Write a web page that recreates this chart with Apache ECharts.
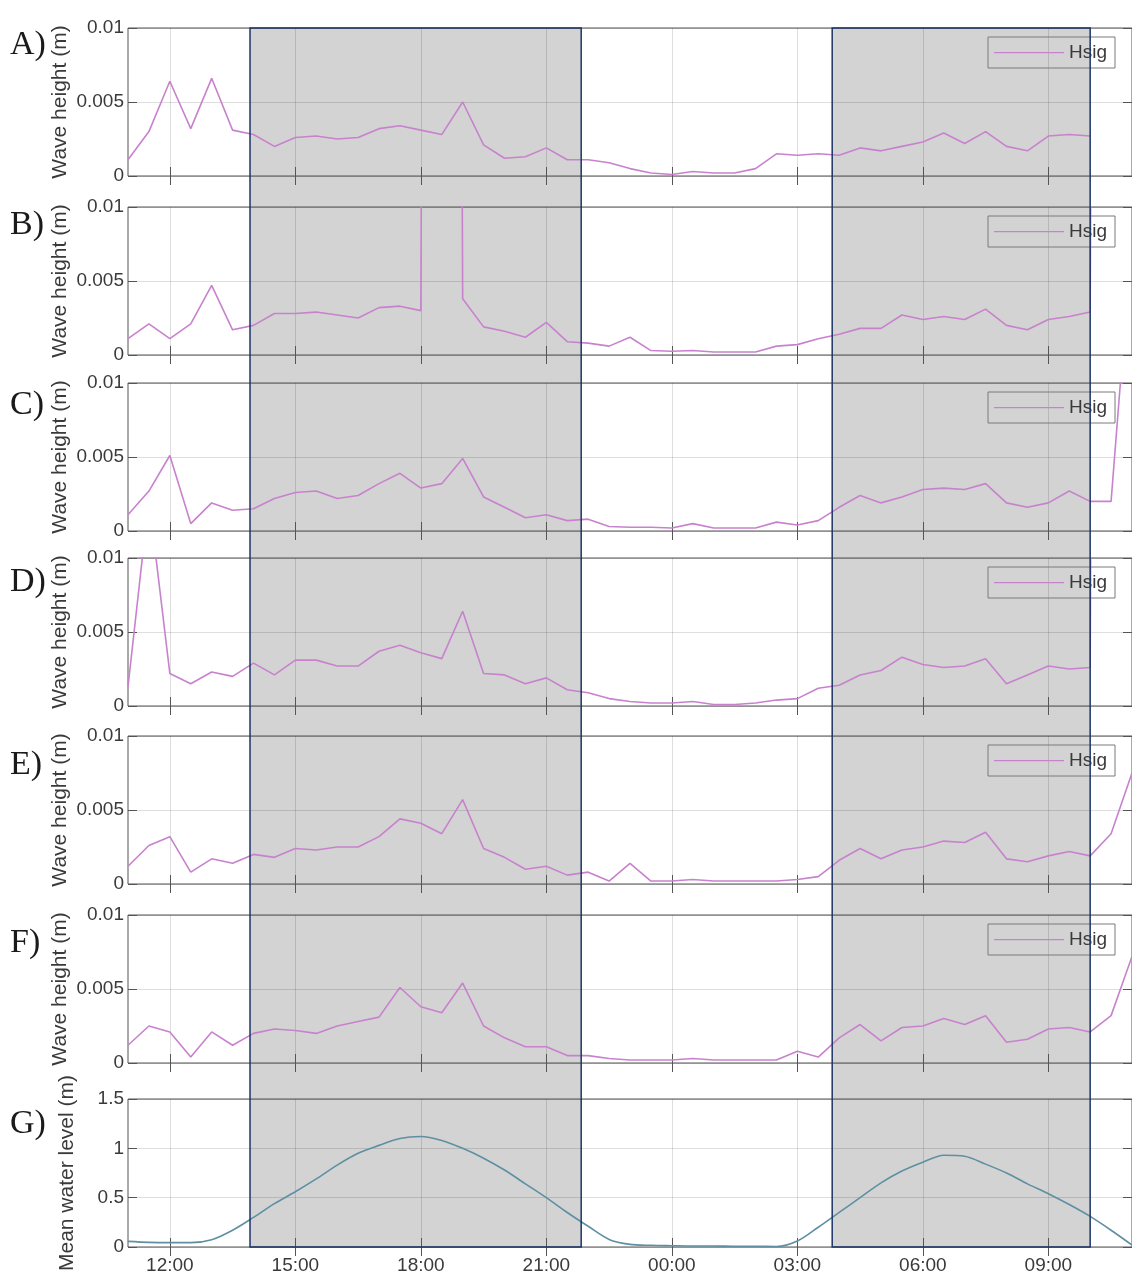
<!DOCTYPE html>
<html><head><meta charset="utf-8">
<script src="https://cdn.jsdelivr.net/npm/echarts@6/dist/echarts.min.js"></script>
<style>html,body{margin:0;padding:0;overflow:hidden;background:#fff}#c{width:1132px;height:1275px}</style>
</head><body><div id="c"></div><script>
// ---------------- DATA ----------------
const times = ['11:00','11:30','12:00','12:30','13:00','13:30','14:00','14:30','15:00','15:30',
  '16:00','16:30','17:00','17:30','18:00','18:30','19:00','19:30','20:00','20:30',
  '21:00','21:30','22:00','22:30','23:00','23:30','00:00','00:30','01:00','01:30',
  '02:00','02:30','03:00','03:30','04:00','04:30','05:00','05:30','06:00','06:30',
  '07:00','07:30','08:00','08:30','09:00','09:30','10:00','10:30','11:00'];
const panelLetters = ['A)','B)','C)','D)','E)','F)','G)'];
const hsigA = [0.0011,0.0030,0.0064,0.0032,0.0066,0.0031,0.0028,0.0020,0.0026,0.0027,
  0.0025,0.0026,0.0032,0.0034,0.0031,0.0028,0.0050,0.0021,0.0012,0.0013,
  0.0019,0.0011,0.0011,0.0009,0.0005,0.0002,0.0001,0.0003,0.0002,0.0002,
  0.0005,0.0015,0.0014,0.0015,0.0014,0.0019,0.0017,0.0020,0.0023,0.0029,
  0.0022,0.0030,0.0020,0.0017,0.0027,0.0028,0.0027,null,null];
const hsigB = [0.0011,0.0021,0.0011,0.0021,0.0047,0.0017,0.0020,0.0028,0.0028,0.0029,
  0.0027,0.0025,0.0032,0.0033,0.0030,0.35,0.0038,0.0019,0.0016,0.0012,
  0.0022,0.0009,0.0008,0.0006,0.0012,0.0003,0.00025,0.0003,0.0002,0.0002,
  0.0002,0.0006,0.0007,0.0011,0.0014,0.0018,0.0018,0.0027,0.0024,0.0026,
  0.0024,0.0031,0.0020,0.0017,0.0024,0.0026,0.0029,0.35,null];
const hsigC = [0.0011,0.0027,0.0051,0.0005,0.0019,0.0014,0.0015,0.0022,0.0026,0.0027,
  0.0022,0.0024,0.0032,0.0039,0.0029,0.0032,0.0049,0.0023,0.0016,0.0009,
  0.0011,0.0007,0.0008,0.0003,0.00025,0.00025,0.0002,0.0005,0.0002,0.0002,
  0.0002,0.0006,0.0004,0.0007,0.0016,0.0024,0.0019,0.0023,0.0028,0.0029,
  0.0028,0.0032,0.0019,0.0016,0.0019,0.0027,0.0020,0.0020,0.020];
const hsigD = [0.0013,0.014,0.0022,0.0015,0.0023,0.0020,0.0029,0.0021,0.0031,0.0031,
  0.0027,0.0027,0.0037,0.0041,0.0036,0.0032,0.0064,0.0022,0.0021,0.0015,
  0.0019,0.0011,0.0009,0.0005,0.0003,0.0002,0.0002,0.0003,0.0001,0.0001,
  0.0002,0.0004,0.0005,0.0012,0.0014,0.0021,0.0024,0.0033,0.0028,0.0026,
  0.0027,0.0032,0.0015,0.0021,0.0027,0.0025,0.0026,0.35,null];
const hsigE = [0.0012,0.0026,0.0032,0.0008,0.0017,0.0014,0.0020,0.0018,0.0024,0.0023,
  0.0025,0.0025,0.0032,0.0044,0.0041,0.0034,0.0057,0.0024,0.0018,0.0010,
  0.0012,0.0006,0.0008,0.0002,0.0014,0.0002,0.0002,0.0003,0.0002,0.0002,
  0.0002,0.0002,0.0003,0.0005,0.0016,0.0024,0.0017,0.0023,0.0025,0.0029,
  0.0028,0.0035,0.0017,0.0015,0.0019,0.0022,0.0019,0.0034,0.0075];
const hsigF = [0.0012,0.0025,0.0021,0.0004,0.0021,0.0012,0.0020,0.0023,0.0022,0.0020,
  0.0025,0.0028,0.0031,0.0051,0.0038,0.0034,0.0054,0.0025,0.0017,0.0011,
  0.0011,0.0005,0.0005,0.0003,0.0002,0.0002,0.0002,0.0003,0.0002,0.0002,
  0.0002,0.0002,0.0008,0.0004,0.0017,0.0026,0.0015,0.0024,0.0025,0.0030,
  0.0026,0.0032,0.0014,0.0016,0.0023,0.0024,0.0021,0.0032,0.0072];
const waterLevel = [0.057,0.047,0.044,0.044,0.074,0.17,0.30,0.44,0.56,0.69,
  0.83,0.95,1.03,1.10,1.12,1.08,1.00,0.90,0.78,0.64,
  0.50,0.35,0.21,0.077,0.027,0.017,0.013,0.010,0.010,0.007,
  0.007,0.005,0.06,0.20,0.35,0.50,0.65,0.77,0.86,0.93,
  0.92,0.84,0.75,0.64,0.54,0.43,0.31,0.17,0.02];
const tickLabels = ['12:00','15:00','18:00','21:00','00:00','03:00','06:00','09:00'];
const shadedPeriods = [['13:55','21:50'],['03:50','10:00']];
const waveTicks = [0, 0.005, 0.01];
const levelTicks = [0, 0.5, 1, 1.5];
const waveName = 'Wave height (m)';
const levelName = 'Mean water level (m)';
const legendName = 'Hsig';

// ---------------- HELPERS ----------------
const START = 11; // axis starts 11:00
function clockToHour(t){ const [h,m]=t.split(':').map(Number); let v=h+m/60; if(v<START) v+=24; return v; }
function seriesHours(list){ let prev=-Infinity; return list.map(t=>{ const [h,m]=t.split(':').map(Number); let v=h+m/60; while(v<prev) v+=24; prev=v; return v; }); }
const xHours = seriesHours(times);
const tickVals = tickLabels.map(clockToHour);
const hourToLabel = v => { const h = ((Math.round(v)%24)+24)%24; return (h<10?'0':'')+h+':00'; };

// ---------------- LAYOUT ----------------
const GRID_TOPS = [28, 207, 383, 558, 736, 915, 1099];
const GRID_H = 148;
const GRID_LEFT = 128, GRID_W = 1008;
const LETTER_Y = [45, 225, 405, 582, 765, 943, 1124];
const FONT = '"Liberation Sans", Arial, Helvetica, sans-serif';
const HSIG_COLOR = '#c882cd';
const LEVEL_COLOR = '#5e8fa3';
const AX = '#555';
const TXT = '#3a3a3a';
const LEGEND_ICON = 'path://M0,0h0.05v0.05h-0.05z M0,6.4h70v1.3h-70z M0,13.95h0.05v0.05h-0.05z';

const waveSeries = [hsigA, hsigB, hsigC, hsigD, hsigE, hsigF];

const grids = [], xAxes = [], yAxes = [], yAxesR = [], series = [], legends = [];
GRID_TOPS.forEach((top, i) => {
  grids.push({left: GRID_LEFT, top: top, width: GRID_W, height: GRID_H, show: true,
    borderColor: AX, borderWidth: 1, backgroundColor: 'transparent'});
  const isLast = i === GRID_TOPS.length - 1;
  xAxes.push({gridIndex: i, type: 'value', min: clockToHour(times[0]), max: xHours[xHours.length-1],
    axisLine: {show: false},
    axisTick: {show: true, inside: true, length: 9, customValues: tickVals, lineStyle: {color: AX}},
    axisLabel: {show: isLast, customValues: tickVals, formatter: hourToLabel, fontSize: 19,
      color: TXT, fontFamily: FONT, margin: 9},
    splitLine: {show: true, lineStyle: {color: 'rgba(0,0,0,0.13)', width: 1}}});
  xAxes.push({gridIndex: i, type: 'value', position: 'top', min: clockToHour(times[0]), max: xHours[xHours.length-1],
    axisLine: {show: false},
    axisTick: {show: true, inside: true, length: 9, customValues: tickVals, lineStyle: {color: AX}},
    axisLabel: {show: false, customValues: tickVals}, splitLine: {show: false}});
  const ticks = isLast ? levelTicks : waveTicks;
  const yBase = {gridIndex: i, type: 'value', min: ticks[0], max: ticks[ticks.length-1], interval: ticks[1]-ticks[0]};
  yAxes.push(Object.assign({}, yBase, {
    name: isLast ? levelName : waveName, nameLocation: 'middle', nameGap: isLast ? 50 : 57, nameMoveOverlap: false,
    nameTextStyle: {fontSize: 21, color: TXT, fontFamily: FONT},
    axisLine: {show: false},
    axisTick: {show: true, inside: true, length: 9, lineStyle: {color: AX}},
    axisLabel: {fontSize: 19, color: TXT, fontFamily: FONT, margin: 4},
    splitLine: {show: true, lineStyle: {color: 'rgba(0,0,0,0.13)', width: 1}}}));
  yAxesR.push(Object.assign({}, yBase, {position: 'right',
    axisLine: {show: false},
    axisTick: {show: true, inside: true, length: 9, lineStyle: {color: AX}},
    axisLabel: {show: false}, splitLine: {show: false}}));
  if (!isLast) {
    series.push({name: legendName, type: 'line', xAxisIndex: 2*i, yAxisIndex: i,
      data: xHours.map((x, k) => [x, waveSeries[i][k]]),
      symbol: 'none', lineStyle: {color: HSIG_COLOR, width: 1.6}, itemStyle: {color: HSIG_COLOR},
      clip: true, connectNulls: false, z: 3});
    legends.push({left: 988, top: top + 9, selectedMode: false, data: [legendName], icon: LEGEND_ICON,
      padding: [6, 8, 6, 6], borderColor: '#7a7a7a', borderWidth: 1, backgroundColor: 'transparent',
      itemWidth: 70, itemHeight: 14, textStyle: {fontSize: 19, color: TXT, fontFamily: FONT}});
  } else {
    series.push({name: 'MWL', type: 'line', xAxisIndex: 2*i, yAxisIndex: i,
      data: xHours.map((x, k) => [x, waterLevel[k]]), smooth: 0.3,
      symbol: 'none', lineStyle: {color: LEVEL_COLOR, width: 1.6}, clip: true, z: 3});
  }
});
const yAll = yAxes.concat(yAxesR);

const chart = echarts.init(document.getElementById('c'), null, {renderer: 'canvas'});
chart.setOption({animation: false, backgroundColor: '#fff', grid: grids, xAxis: xAxes, yAxis: yAll,
  legend: legends, series: series});

// shaded periods spanning all panels, positioned through the axes scales
const yTop = chart.convertToPixel({yAxisIndex: 0}, waveTicks[waveTicks.length-1]);
const yBot = chart.convertToPixel({yAxisIndex: GRID_TOPS.length-1}, levelTicks[0]);
const graphics = [];
shadedPeriods.forEach(([a, b]) => {
  const x1 = chart.convertToPixel({xAxisIndex: 0}, clockToHour(a));
  const x2 = chart.convertToPixel({xAxisIndex: 0}, clockToHour(b));
  graphics.push({type: 'rect', silent: true, z: -1,
    shape: {x: x1, y: yTop, width: x2 - x1, height: yBot - yTop}, style: {fill: '#d3d3d3'}});
  graphics.push({type: 'rect', silent: true, z: 10,
    shape: {x: x1, y: yTop, width: x2 - x1, height: yBot - yTop},
    style: {fill: 'none', stroke: '#1d3566', lineWidth: 1.5}});
});
panelLetters.forEach((t, i) => {
  graphics.push({type: 'text', silent: true, z: 10, x: 10, y: LETTER_Y[i],
    style: {text: t, font: '34px "Liberation Serif", "Times New Roman", serif', fill: '#1a1a1a',
      textVerticalAlign: 'middle', verticalAlign: 'middle'}});
});
chart.setOption({graphic: graphics});
</script></body></html>
